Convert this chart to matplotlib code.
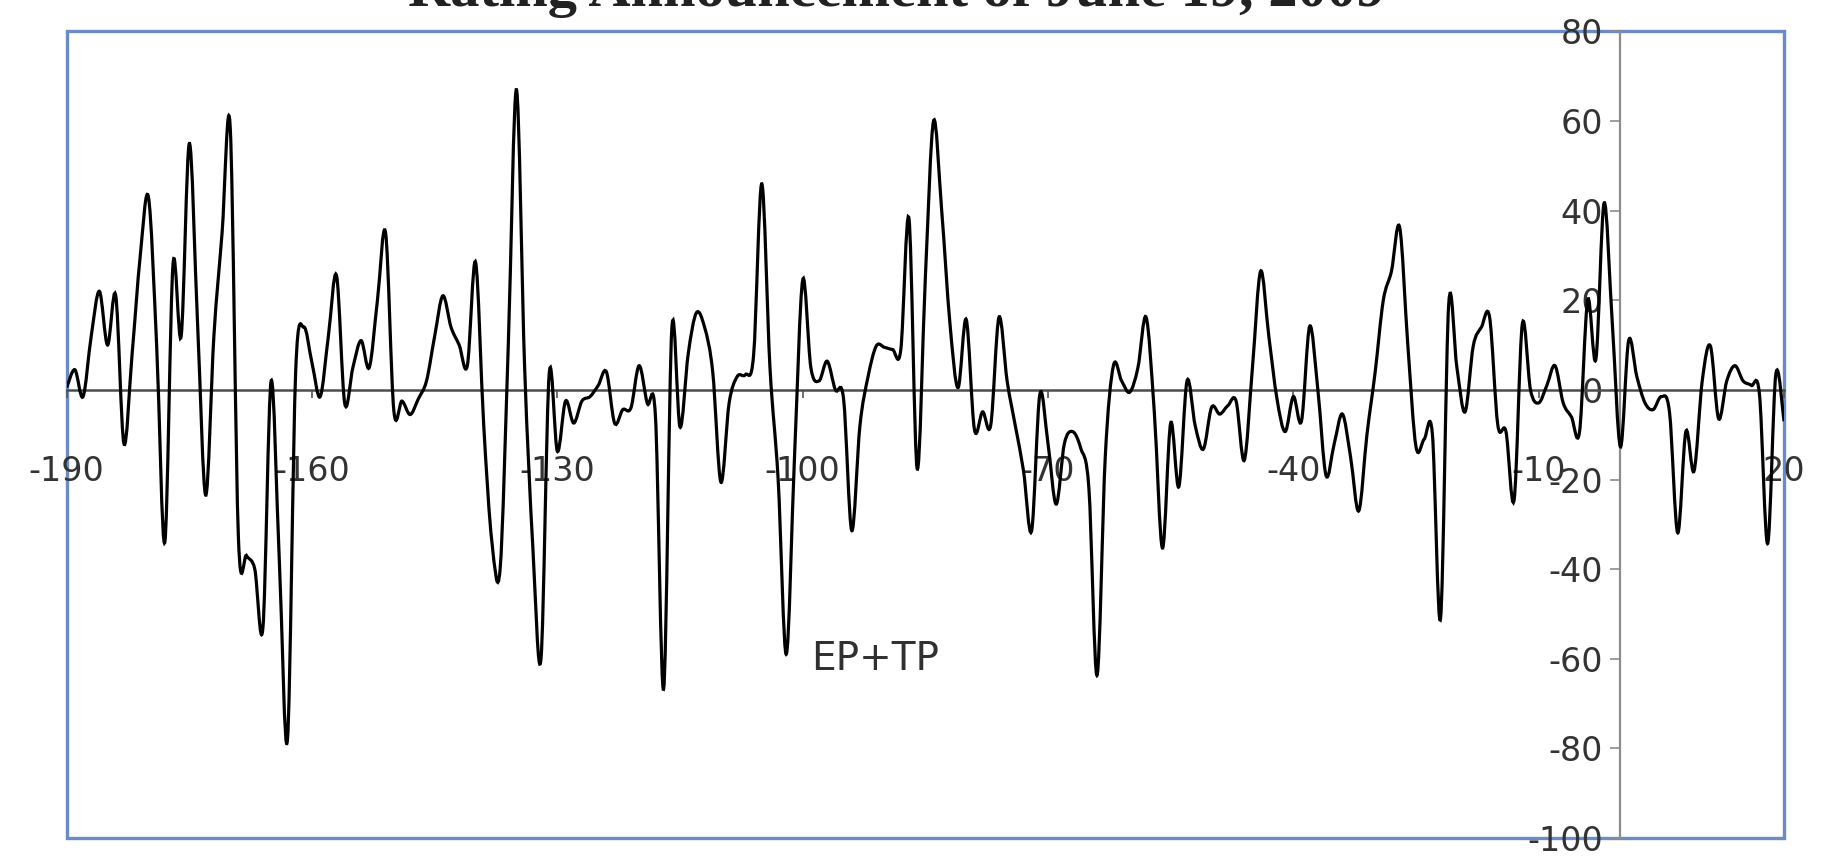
import numpy as np
import matplotlib
matplotlib.use("Agg")
import matplotlib.pyplot as plt
from matplotlib.path import Path
from matplotlib.patches import PathPatch, Rectangle

plt.rcParams['axes.unicode_minus'] = False

# event window (trading days relative to the announcement)
days = np.arange(-190, 21)

# combined EP+TP series, one value per day
ep_tp = [
    0.5, 4.5, -1.5, 12, 22, 10, 21, -12, 8, 30,            # -190 .. -181
    43, 10, -34, 28, 12, 55, 15, -23.5, 12, 35,            # -180 .. -171
    58.5, -33, -37, -40, -53, 2, -38, -78, 4, 14,          # -170 .. -161
    6, -1.5, 12, 25.5, -3, 5, 11, 5, 20, 35,               # -160 .. -151
    -4.5, -2.5, -5.5, -2, 2, 12, 21, 14, 10, 5.5,          # -150 .. -141
    28.5, -8, -34, -40, 10, 67, 5, -35, -60, 3.5,          # -140 .. -131
    -13.7, -2.5, -7.4, -2.5, -1.5, 1, 4, -7.4, -4.4, -4,   # -130 .. -121
    5.4, -3, -6, -66.7, 13.7, -8.3, 8, 17.2, 14, 4,        # -120 .. -111
    -20.6, -3, 3, 3.4, 7.8, 46, 5, -20, -59, -15,          # -110 .. -101
    24.5, 5, 2, 6.4, 0, -2, -31.4, -8, 3, 9.8,             # -100 .. -91
    9.5, 9, 9, 38.2, -17.6, 25, 60, 40, 15, 0.5,           # -90 .. -81
    15.7, -8.8, -4.9, -7.8, 16.2, 2, -8, -18, -31.4, -1,   # -80 .. -71
    -12, -25.5, -12, -9.3, -13, -22, -63.7, -15, 5.4, 2,   # -70 .. -61
    -0.5, 5, 16.2, -5, -35.3, -7.4, -21.6, 2, -8, -13.2,   # -60 .. -51
    -3.9, -5.4, -3.5, -2.5, -15.7, 5, 26.5, 12, -2, -9.3,  # -50 .. -41
    -1.5, -6.9, 14.2, 0, -19.1, -12, -5.4, -15, -27, -10,  # -40 .. -31
    3.9, 20, 26.5, 36.3, 10, -12.7, -11, -9.8, -51, 19.1,  # -30 .. -21
    5, -4.9, 9.8, 14, 16.2, -7.8, -9.3, -24.5, 14.7, 0,    # -20 .. -11
    -2.9, 1, 5.4, -2.9, -6, -9.3, 20.1, 6.9, 41.7, 15,     # -10 .. -1
    -12.7, 11, 3, -2.9, -4.4, -1.5, -5, -31.9, -9.3, -18.1, 2,  # 0 .. 10
    9.8, -6.4, 2, 5.4, 2, 1, -1, -34.3, 3.5, -7,           # 11 .. 20
]

x_ticks = np.arange(-190, 21, 30)
y_ticks = np.arange(-100, 81, 20)
title = "Rating Announcement of June 19, 2009"
series_label = "EP+TP"


def smooth_path(x, y):
    # cubic bezier through every point, like a spreadsheet "smoothed line"
    x = np.asarray(x, float)
    y = np.asarray(y, float)
    px = np.concatenate([[x[0]], x, [x[-1]]])
    py = np.concatenate([[y[0]], y, [y[-1]]])
    verts = [(x[0], y[0])]
    codes = [Path.MOVETO]
    for i in range(1, len(px) - 2):
        c1 = (px[i] + (px[i + 1] - px[i - 1]) / 6, py[i] + (py[i + 1] - py[i - 1]) / 6)
        c2 = (px[i + 1] - (px[i + 2] - px[i]) / 6, py[i + 1] - (py[i + 2] - py[i]) / 6)
        verts += [c1, c2, (px[i + 1], py[i + 1])]
        codes += [Path.CURVE4] * 3
    return Path(verts, codes)


fig = plt.figure(figsize=(18.32, 8.59), dpi=100)
ax = fig.add_axes([0.0364, 0.0245, 0.9374, 0.9389])

ax.add_patch(PathPatch(smooth_path(days, ep_tp), facecolor='none',
                       edgecolor='black', lw=2.3, zorder=3))

ax.set_xlim(-190, 20)
ax.set_ylim(-100, 80)

# axes cross at the origin
ax.spines['bottom'].set_position(('data', 0))
ax.spines['left'].set_position(('data', 0))
ax.spines['bottom'].set_color('#4d4d4d')
ax.spines['bottom'].set_linewidth(1.8)
ax.spines['left'].set_color('#8c8c8c')
ax.spines['left'].set_linewidth(1.6)
ax.spines['top'].set_visible(False)
ax.spines['right'].set_visible(False)

ax.set_xticks(x_ticks)
ax.set_yticks(y_ticks)
ax.tick_params(axis='x', direction='out', length=6, width=1.2, color='#555555',
               pad=41, labelsize=24, labelcolor='#333333')
ax.tick_params(axis='y', direction='out', length=7.5, width=1.2, color='#8c8c8c',
               pad=5, labelsize=24, labelcolor='#333333')

# plot area frame
ax.add_patch(Rectangle((0, 0), 1, 1, transform=ax.transAxes, fill=False,
                       edgecolor='#6a8bc6', lw=2.4, clip_on=False, zorder=1))

ax.text(-99, -60, series_label, fontsize=28, color='#303030',
        ha='left', va='center')

# title sits mostly above the top edge of the canvas
fig.text(0.4896, 1 - 6 / 859, title, ha='center', va='baseline',
         fontsize=42, fontweight='bold', family='Liberation Serif', color='#222222')

fig.savefig('out.png', dpi=100, facecolor='white')
